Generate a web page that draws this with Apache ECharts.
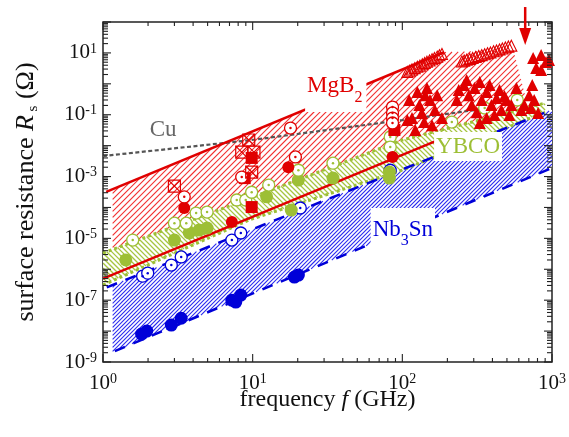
<!DOCTYPE html>
<html><head><meta charset="utf-8">
<script src="https://cdn.jsdelivr.net/npm/echarts@6/dist/echarts.min.js"></script>
<style>html,body{margin:0;padding:0;background:#fff}#c{width:569px;height:437px}</style>
</head><body><div id="c"></div>
<script>
// ---------------- data (frequency GHz, surface resistance Ohm) ----------------
const xTickLabels = [1, 10, 100, 1000];
const yTickLabels = [1e-9, 1e-7, 1e-5, 1e-3, 1e-1, 1e1];

const cuLine     = [[1, 4.6e-3], [9.85, 0.0152], [100, 0.0673], [426, 0.177]];
const mgb2Upper  = [[1.05, 3.2e-4], [190, 10.5]];
const mgb2Lower  = [[1, 5e-7], [170, 0.0145]];
const nb3snUpper = [[1.06, 2.6e-7], [1000, 0.145]];
const nb3snLower = [[1.2, 2.24e-9], [1000, 1.9e-3]];
const ybcoUpper  = [[1, 3.34e-6], [7.26, 1.2e-4], [100, 0.0152], [899, 0.239]];
const ybcoLower  = [[1, 3.08e-7], [9.41, 3.9e-5], [100, 1.62e-3], [899, 0.122]];

const mgb2Region  = [[1.16, 6.7e-7], [1.16, 3.9e-4], [190, 10.5], [552, 12.4], [673, 0.30], [673, 0.226]];
const nb3snRegion = [[1.16, 2.1e-9], [1.16, 3.1e-7], [1000, 0.145], [1000, 1.9e-3]];

const nb3snFilled = [[1.81, 8.0e-9], [1.96, 1.0e-8], [2.86, 1.56e-8], [3.33, 2.6e-8], [7.26, 1.0e-7], [7.71, 8.7e-8], [8.33, 1.46e-7], [19.0, 5.6e-7], [20.2, 6.5e-7]];
const nb3snOpen   = [[1.84, 6.0e-7], [1.99, 7.5e-7], [2.86, 1.37e-6], [3.33, 2.5e-6], [7.26, 8.8e-6], [8.33, 1.49e-5], [20.8, 9.6e-5], [83, 1.6e-3]];
const ybcoFilled  = [[1.42, 2.0e-6], [3.0, 8.8e-6], [3.77, 1.49e-5], [4.39, 1.86e-5], [4.96, 2.15e-5], [12.4, 2.2e-4], [18.1, 8.2e-5], [20.2, 7.7e-4], [34.4, 8.9e-4], [82, 1.4e-3], [82, 8.9e-4]];
const ybcoOpen    = [[1.58, 8.8e-6], [3.0, 3.1e-5], [3.6, 3.1e-5], [4.19, 6.6e-5], [4.96, 7.1e-5], [7.83, 1.74e-4], [8.99, 1.74e-4], [9.85, 3.1e-4], [12.8, 5.3e-4], [20.2, 1.6e-3], [34.4, 2.7e-3], [83, 0.019], [83, 0.009], [214, 0.058], [355, 0.165], [586, 0.30]];
const mgb2Open    = [[3.49, 2.2e-4], [8.45, 9.6e-4], [17.9, 0.037], [19.3, 0.0043], [86, 0.177], [86, 0.114], [86, 0.078], [86, 0.054]];
const mgb2Filled  = [[3.49, 9.6e-5], [7.26, 3.4e-5], [17.3, 2.0e-3], [86, 4.3e-3]];
const mgb2Square  = [[9.85, 4.0e-3], [8.85, 8.9e-4], [9.85, 1.03e-4], [88.5, 0.032]];
const mgb2Crossed = [[3.0, 4.9e-4], [8.45, 6.2e-3], [9.41, 0.0152], [10.2, 6.2e-3], [9.85, 1.4e-3]];
const mgb2Tri     = [[122, 0.032], [116, 0.078], [130, 0.206], [142, 0.43], [153, 0.30], [165, 0.142], [135, 0.114], [108, 0.067], [184, 0.078],
                     [111, 0.30], [126, 0.54], [146, 0.73], [171, 0.43], [140, 0.058], [158, 0.046],
                     [258, 0.91], [278, 0.43], [304, 0.73], [339, 0.30], [366, 0.54], [394, 0.206], [426, 0.35], [459, 0.142], [496, 0.30], [519, 0.098], [291, 0.206], [231, 0.30], [413, 0.098],
                     [238, 0.63], [269, 1.33], [329, 1.14], [383, 0.91], [446, 0.63], [481, 0.40], [535, 0.206], [314, 0.12], [366, 0.078], [329, 0.054],
                     [748, 6.8], [846, 8.55], [912, 5.1], [784, 3.24], [738, 0.91], [704, 0.43], [623, 0.142], [726, 0.165], [808, 0.114], [578, 0.73],
                     [846, 2.8], [955, 5.9], [653, 0.206], [760, 0.30]];
const mgb2TriOpen = [[108, 2.41], [112, 2.65], [116, 2.92], [121, 3.22], [126, 3.55], [131, 3.88], [136, 4.28], [141, 4.71], [146, 5.19], [152, 5.71], [158, 6.25], [164, 6.89], [171, 7.59], [177, 8.36], [184, 9.2],
                     [250, 5.3], [259, 5.64], [269, 5.98], [282, 6.40], [295, 6.9], [309, 7.36], [324, 7.94], [339, 8.49], [355, 9.07], [371, 9.77], [388, 10.4], [407, 11.3], [426, 12.0], [446, 13.0], [466, 13.9], [488, 15.0], [511, 16.0], [535, 17.2]];
const arrowLine   = [[662, 305], [662, 18]];

const labelTexts   = ['Cu', 'MgB{s|2}', 'YBCO', 'Nb{s|3}Sn'];
const labelAnchors = [[2.05, 0.078], [22.4, 4.7], [163, 0.0275], [61.4, 9.6e-5]];

// ---------------- styling ----------------
const FONT = "'Liberation Serif','Times New Roman',serif";
const RED = '#e00000', BLUE = '#0000d8', GREEN = '#9dbf35', GRAY = '#555555';

// hatch segments clipped to a pixel polygon; dir +1 => '/', -1 => '\'
function hatchPath(pts, step, dir) {
  const vals = pts.map(function (p) { return p[0] + dir * p[1]; });
  const cmin = Math.ceil(Math.min.apply(null, vals) / step) * step, cmax = Math.max.apply(null, vals);
  const segs = [];
  for (let c = cmin; c <= cmax; c += step) {
    const xs = [];
    for (let i = 0; i < pts.length; i++) {
      const a = pts[i], b = pts[(i + 1) % pts.length];
      const fa = a[0] + dir * a[1] - c, fb = b[0] + dir * b[1] - c;
      if ((fa < 0) !== (fb < 0)) { const t = fa / (fa - fb); xs.push([a[0] + t * (b[0] - a[0]), a[1] + t * (b[1] - a[1])]); }
    }
    xs.sort(function (p, q) { return p[0] - q[0]; });
    for (let j = 0; j + 1 < xs.length; j += 2) segs.push([xs[j], xs[j + 1]]);
  }
  return segs;
}

function regionSeries(points, step, dir, color, width, z) {
  return { type: 'custom', coordinateSystem: 'cartesian2d', z: z, silent: true, clip: true,
    data: [[1, 1]],
    renderItem: function (params, api) {
      const px = points.map(function (p) { return api.coord(p); });
      const segs = hatchPath(px, step, dir);
      const children = [{ type: 'polygon', shape: { points: px }, style: { fill: '#fff', stroke: null } }];
      segs.forEach(function (s) {
        children.push({ type: 'polyline', shape: { points: [s[0], s[1]] }, style: { stroke: color, lineWidth: width, fill: null, opacity: 1 } });
      });
      return { type: 'group', children: children };
    } };
}
function lineSeries(data, color, width, dash, z) {
  return { type: 'line', data: data, showSymbol: false, symbol: 'none', silent: true, z: z, clip: true,
    lineStyle: { color: color, width: width, type: dash || 'solid', cap: 'butt' } };
}
function scatter(data, symbol, size, itemStyle, z) {
  return { type: 'scatter', data: data, symbol: symbol, symbolSize: size, itemStyle: itemStyle, z: z, silent: true };
}
function openCircle(data, color, z) {
  return [scatter(data, 'circle', 12, { color: '#fff', borderColor: color, borderWidth: 1.3, opacity: 1 }, z),
          scatter(data, 'circle', 2.5, { color: color, opacity: 1 }, z + 0.1)];
}

// ticks (axis structure)
const tickData = [];
for (let k = 0; k < 3; k++) for (let m = 1; m <= 9; m++) tickData.push([m * Math.pow(10, k), 1, 0, m === 1 ? 1 : 0]);
tickData.push([1000, 1, 0, 1]);
for (let k = -9; k < 2; k++) for (let m = 1; m <= 9; m++) tickData.push([1, m * Math.pow(10, k), 1, m === 1 ? 1 : 0]);
tickData.push([1, 100, 1, 1]);

const labelStyles = [
  { fill: '#666', fontSize: 23, fontFamily: FONT, padding: [0, 0, 0, 0] },
  { fill: RED, fontSize: 23, fontFamily: FONT, backgroundColor: '#fff', padding: [3, 4, 6, 2],
    rich: { s: { fill: RED, fontSize: 16, fontFamily: FONT, verticalAlign: 'bottom', padding: [24, 0, 0, 0] } } },
  { fill: GREEN, fontSize: 23, fontFamily: FONT, backgroundColor: '#fff', padding: [3, 2, 3, 2] },
  { fill: BLUE, fontSize: 23, fontFamily: FONT, backgroundColor: '#fff', padding: [3, 2, 4, 2],
    rich: { s: { fill: BLUE, fontSize: 16, fontFamily: FONT, verticalAlign: 'bottom', padding: [22, 0, 0, 0] } } }
];

const series = [
  regionSeries(mgb2Region, 6, 1, '#f23030', 1.1, 1),
  regionSeries(nb3snRegion, 4, 1, '#2a2af0', 1.1, 2),
  regionSeries(ybcoUpper.concat(ybcoLower.slice().reverse()), 5, -1, '#a6c540', 1.3, 3),
  lineSeries(cuLine, GRAY, 2.2, [4, 2.5], 4),
  lineSeries(ybcoUpper, GREEN, 3, [3, 3], 4),
  lineSeries(ybcoLower, GREEN, 3, [3, 3], 4),
  lineSeries(mgb2Upper, RED, 2.5, 'solid', 5),
  lineSeries(mgb2Lower, RED, 2.5, 'solid', 5),
  lineSeries(nb3snUpper, BLUE, 2.5, [11, 9], 5),
  lineSeries(nb3snLower, BLUE, 2.5, [11, 9], 5),
  scatter(nb3snFilled, 'circle', 13, { color: BLUE, opacity: 1 }, 6),
  ...openCircle(nb3snOpen, BLUE, 6),
  scatter(ybcoFilled, 'circle', 13, { color: GREEN, opacity: 1 }, 7),
  ...openCircle(ybcoOpen, GREEN, 7),
  scatter(mgb2Square, 'rect', 12, { color: RED, opacity: 1 }, 8),
  scatter(mgb2Filled, 'circle', 12, { color: RED, opacity: 1 }, 8),
  ...openCircle(mgb2Open, RED, 8),
  scatter(mgb2Crossed, 'path://M0 0H10V10H0ZM0 0L10 10M10 0L0 10', 12, { color: 'rgba(255,255,255,0)', borderColor: RED, borderWidth: 1.2, opacity: 1 }, 9),
  scatter(mgb2TriOpen, 'triangle', 11, { color: 'rgba(255,255,255,0)', borderColor: RED, borderWidth: 1.1, opacity: 1 }, 9),
  scatter(mgb2Tri, 'triangle', 12, { color: RED, opacity: 1 }, 9),
  { type: 'custom', coordinateSystem: 'cartesian2d', z: 20, silent: true, clip: false, data: labelAnchors,
    renderItem: function (params, api) {
      const p = api.coord([api.value(0), api.value(1)]);
      return { type: 'text', x: p[0], y: p[1], style: Object.assign({ text: labelTexts[params.dataIndex], align: 'left', verticalAlign: 'top' }, labelStyles[params.dataIndex]) };
    } },
  { type: 'custom', coordinateSystem: 'cartesian2d', z: 21, silent: true, clip: false, data: [arrowLine[0].concat(arrowLine[1])],
    renderItem: function (params, api) {
      const a = api.coord([api.value(0), api.value(1)]);
      const b = api.coord([api.value(2), api.value(3)]);
      return { type: 'group', children: [
        { type: 'line', shape: { x1: a[0], y1: a[1], x2: b[0], y2: b[1] - 8 }, style: { stroke: RED, lineWidth: 2.5 } },
        { type: 'polygon', shape: { points: [[b[0] - 6, b[1] - 17], [b[0] + 6, b[1] - 17], [b[0], b[1]]] }, style: { fill: RED } }
      ] };
    } },
  { type: 'custom', coordinateSystem: 'cartesian2d', z: 22, silent: true, clip: false, data: tickData,
    renderItem: function (params, api) {
      const cs = params.coordSys;
      const isY = api.value(2) === 1, major = api.value(3) === 1;
      const p = api.coord([api.value(0), api.value(1)]);
      const st = { stroke: '#222', lineWidth: 1.1 };
      if (!isY) {
        const len = major ? 8 : 4, b = cs.y + cs.height;
        return { type: 'group', children: [
          { type: 'line', shape: { x1: p[0], y1: b, x2: p[0], y2: b - len }, style: st },
          { type: 'line', shape: { x1: p[0], y1: cs.y, x2: p[0], y2: cs.y + len }, style: st } ] };
      }
      const len = major ? 8 : 5, r = cs.x + cs.width;
      return { type: 'group', children: [
        { type: 'line', shape: { x1: cs.x, y1: p[1], x2: cs.x + len, y2: p[1] }, style: st },
        { type: 'line', shape: { x1: r, y1: p[1], x2: r - len, y2: p[1] }, style: st } ] };
    } }
];

const richTick = {
  b: { fontSize: 21, fontFamily: FONT, color: '#111' },
  s: { fontSize: 14, fontFamily: FONT, color: '#111', verticalAlign: 'top', padding: [0, 0, 8, 0] }
};

const chart = echarts.init(document.getElementById('c'), null, { renderer: 'canvas' });
chart.setOption({
  animation: false,
  backgroundColor: '#fff',
  grid: { left: 103, right: 13, top: 22, bottom: 75, show: true, borderColor: '#222', borderWidth: 1.5, backgroundColor: 'rgba(0,0,0,0)' },
  xAxis: {
    type: 'log', logBase: 10, min: xTickLabels[0], max: xTickLabels[xTickLabels.length - 1], interval: 1,
    axisLine: { show: false }, axisTick: { show: false }, splitLine: { show: false },
    axisLabel: { margin: 10, formatter: function (v) { return '{b|10}{s|' + Math.round(Math.log10(v)) + '}'; }, rich: richTick },
    name: 'frequency {i|f} (GHz)', nameLocation: 'middle', nameGap: 26, nameMoveOverlap: false,
    nameTextStyle: { fontSize: 24, fontFamily: FONT, color: '#111', rich: { i: { fontSize: 24, fontFamily: FONT, fontStyle: 'italic', color: '#111' } } }
  },
  yAxis: {
    type: 'log', logBase: 10, min: 1e-9, max: 100, interval: 1,
    axisLine: { show: false }, axisTick: { show: false }, splitLine: { show: false },
    axisLabel: { margin: 6, formatter: function (v) {
      const e = Math.round(Math.log10(v));
      return yTickLabels.some(function (t) { return Math.abs(Math.log10(t) - e) < 1e-6; }) ? '{b|10}{s|' + e + '}' : '';
    }, rich: richTick },
    name: 'surface resistance {i|R}{sub| s} (Ω)', nameLocation: 'middle', nameGap: 62, nameMoveOverlap: false,
    nameTextStyle: { fontSize: 26, fontFamily: FONT, color: '#111',
      rich: { i: { fontSize: 26, fontFamily: FONT, fontStyle: 'italic', color: '#111' },
              sub: { fontSize: 15, fontFamily: FONT, color: '#111', verticalAlign: 'bottom', padding: [14, 0, 0, 0] } } }
  },
  series: series
});
</script></body></html>
